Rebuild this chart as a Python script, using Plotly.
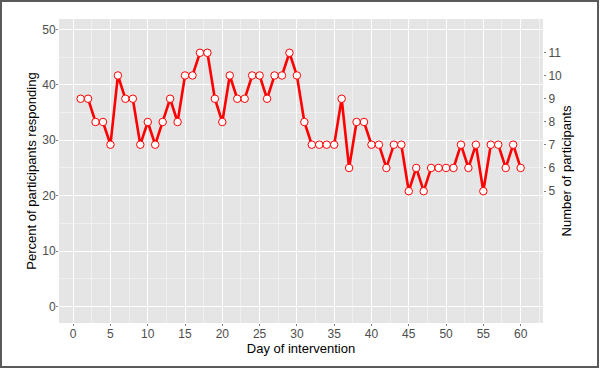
import plotly.graph_objects as go

# day of intervention and percent of the 24 participants who responded
days = list(range(1, 61))
percent_responding = [
    37.5, 37.5, 33.3, 33.3, 29.2, 41.7, 37.5, 37.5, 29.2, 33.3,
    29.2, 33.3, 37.5, 33.3, 41.7, 41.7, 45.8, 45.8, 37.5, 33.3,
    41.7, 37.5, 37.5, 41.7, 41.7, 37.5, 41.7, 41.7, 45.8, 41.7,
    33.3, 29.2, 29.2, 29.2, 29.2, 37.5, 25.0, 33.3, 33.3, 29.2,
    29.2, 25.0, 29.2, 29.2, 20.8, 25.0, 20.8, 25.0, 25.0, 25.0,
    25.0, 29.2, 25.0, 29.2, 20.8, 29.2, 29.2, 25.0, 29.2, 25.0,
]
left_ticks = [0, 10, 20, 30, 40, 50]
x_ticks = [0, 5, 10, 15, 20, 25, 30, 35, 40, 45, 50, 55, 60]
participant_ticks = [5, 6, 7, 8, 9, 10, 11]
total_participants = 24

Y_RANGE = [-3.0, 51.9]
X_RANGE = [-1.9, 63.0]

fig = go.Figure()
fig.add_trace(go.Scatter(
    x=days,
    y=percent_responding,
    mode="lines+markers",
    line=dict(color="#ff0000", width=2.6),
    marker=dict(size=7.5, color="white", line=dict(color="#ff0000", width=1)),
    showlegend=False,
    hoverinfo="x+y",
))

font = dict(family="Liberation Sans, Arial, sans-serif", size=12, color="#4d4d4d")

fig.update_layout(
    width=600,
    height=369,
    margin=dict(l=59, r=57, t=19, b=46),
    paper_bgcolor="white",
    plot_bgcolor="#e5e5e5",
    font=font,
    xaxis=dict(
        range=X_RANGE,
        tickvals=x_ticks,
        ticks="outside",
        ticklen=2,
        tickcolor="#7f7f7f",
        ticklabelstandoff=-2,
        showgrid=True,
        gridcolor="white",
        gridwidth=1.2,
        minor=dict(dtick=2.5, showgrid=True, gridcolor="#f0f0f0", gridwidth=0.6),
        zeroline=False,
        showline=False,
        automargin=False,
        title=dict(text="Day of intervention", font=dict(size=13, color="black"), standoff=3),
    ),
    yaxis=dict(
        range=Y_RANGE,
        tickvals=left_ticks,
        ticks="outside",
        ticklen=2,
        tickcolor="#7f7f7f",
        ticklabelstandoff=-2,
        showgrid=True,
        gridcolor="white",
        gridwidth=1.2,
        minor=dict(dtick=5, showgrid=True, gridcolor="#f0f0f0", gridwidth=0.6),
        zeroline=False,
        showline=False,
        automargin=False,
        title=dict(text="Percent of participants responding", font=dict(size=13, color="black"), standoff=2),
    ),
    yaxis2=dict(
        overlaying="y",
        side="right",
        range=[Y_RANGE[0] * total_participants / 100, Y_RANGE[1] * total_participants / 100],
        tickvals=participant_ticks,
        ticks="outside",
        ticklen=2,
        tickcolor="#7f7f7f",
        showgrid=False,
        zeroline=False,
        showline=False,
        automargin=False,
        title=dict(text="Number of participants", font=dict(size=13, color="black"), standoff=0),
    ),
)

# invisible trace so the secondary axis is drawn
fig.add_trace(go.Scatter(x=[None], y=[None], yaxis="y2", showlegend=False, hoverinfo="skip"))

# grey frame around the whole figure
fig.add_shape(
    type="rect", xref="paper", yref="paper",
    x0=-58 / 484, x1=539 / 484, y0=-44 / 304, y1=322 / 304,
    line=dict(color="#5a5a5a", width=2), fillcolor="rgba(0,0,0,0)",
    layer="below",
)

fig.write_html(
    "out.html",
    config={"displayModeBar": False},
    post_script="document.body.style.margin='0px';",
)
